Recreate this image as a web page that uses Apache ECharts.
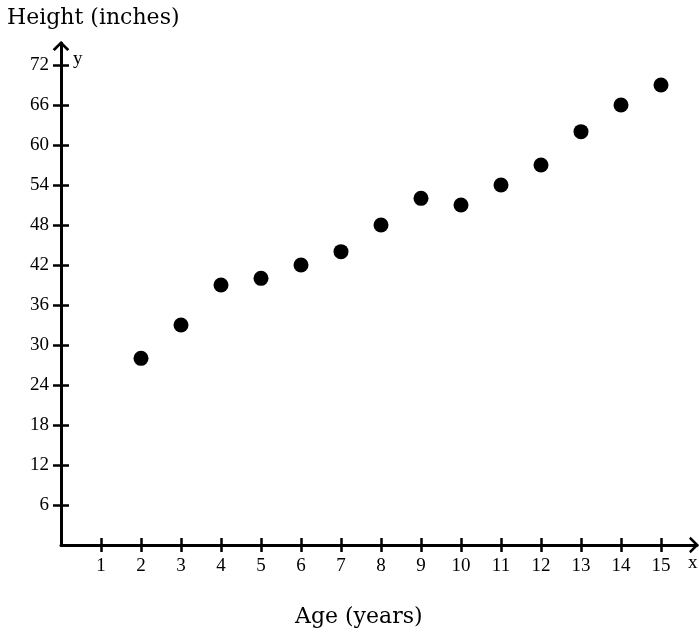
<!DOCTYPE html>
<html>
<head>
<meta charset="utf-8">
<script src="https://cdn.jsdelivr.net/npm/echarts@6/dist/echarts.min.js"></script>
<style>
html,body{margin:0;padding:0;background:#fff;}
#chart{width:699px;height:635px;}
</style>
</head>
<body>
<div id="chart"></div>
<script>
const ages = [2, 3, 4, 5, 6, 7, 8, 9, 10, 11, 12, 13, 14, 15];
const heights = [28, 33, 39, 40, 42, 44, 48, 52, 51, 54, 57, 62, 66, 69];
const xTicks = [1, 2, 3, 4, 5, 6, 7, 8, 9, 10, 11, 12, 13, 14, 15];
const yTicks = [6, 12, 18, 24, 30, 36, 42, 48, 54, 60, 66, 72];

const FONT = 'Liberation Serif';
const TFONT = 'DejaVu Serif';
const chevron = 'path://M0,10 L10,0 L20,10 L17.5,12 L10,4.5 L2.5,12 Z';

const chart = echarts.init(document.getElementById('chart'));

function xAxisDef(inside, show) {
  return {
    type: 'value', min: 0, max: 15.9, position: 'bottom',
    axisLine: show ? { show: true, lineStyle: { color: '#000', width: 3 }, symbol: ['none', chevron], symbolSize: [17, 10], symbolOffset: [0, -3] } : { show: false },
    axisTick: { show: true, inside: inside, length: 7, lineStyle: { color: '#000', width: 2.5 }, customValues: xTicks },
    axisLabel: show ? { show: true, customValues: xTicks, color: '#000', fontFamily: FONT, fontSize: 19, margin: 12 } : { show: false },
    splitLine: { show: false }
  };
}
function yAxisDef(inside, show) {
  return {
    type: 'value', min: 0, max: 75.3, position: 'left',
    axisLine: show ? { show: true, lineStyle: { color: '#000', width: 3 }, symbol: ['none', chevron], symbolSize: [17, 10], symbolOffset: [0, -3] } : { show: false },
    axisTick: { show: true, inside: inside, length: 8, lineStyle: { color: '#000', width: 2.5 }, customValues: yTicks },
    axisLabel: show ? { show: true, customValues: yTicks, color: '#000', fontFamily: FONT, fontSize: 19, margin: 12 } : { show: false },
    splitLine: { show: false }
  };
}

chart.setOption({
  animation: false,
  backgroundColor: '#fff',
  grid: { left: 61, top: 43, width: 636, height: 502, containLabel: false },
  xAxis: [xAxisDef(false, true), xAxisDef(true, false)],
  yAxis: [yAxisDef(false, true), yAxisDef(true, false)],
  graphic: [
    { type: 'text', left: 7, top: 7, style: { text: 'Height (inches)', font: '22px "' + TFONT + '"', fill: '#000' } },
    { type: 'text', left: 73, top: 50, style: { text: 'y', font: '19px "' + FONT + '"', fill: '#000' } },
    { type: 'text', left: 688, top: 554, style: { text: 'x', font: '19px "' + FONT + '"', fill: '#000' } },
    { type: 'text', left: 295, top: 606, style: { text: 'Age (years)', font: '22px "' + TFONT + '"', fill: '#000' } }
  ],
  series: [{
    type: 'scatter',
    xAxisIndex: 0, yAxisIndex: 0,
    data: ages.map((a, i) => [a, heights[i]]),
    symbol: 'circle', symbolSize: 15,
    itemStyle: { color: '#000', opacity: 1 }
  }]
});
</script>
</body>
</html>
